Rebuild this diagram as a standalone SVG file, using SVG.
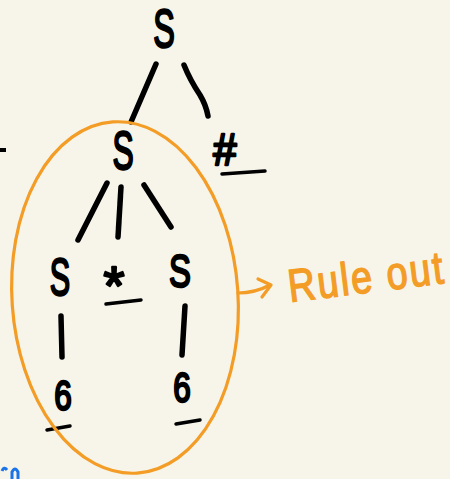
<svg xmlns="http://www.w3.org/2000/svg" width="450" height="479" viewBox="0 0 450 479">
<style>
.t{font-family:"Liberation Sans",Arial,sans-serif;fill:#000;stroke:#000;stroke-width:2.4;stroke-linejoin:round;text-anchor:middle}
.e{stroke:#000;stroke-width:5.5;stroke-linecap:round;fill:none}
.u{stroke:#000;stroke-width:3.5;stroke-linecap:round;fill:none}
.o{stroke:#f39c26;stroke-width:3.2;fill:none;stroke-linecap:round;stroke-linejoin:round}
</style>
<rect width="450" height="479" fill="#f7f5ea"/>
<g id="connectors">
<path class="e" d="M156 64 L131 122"/>
<path class="e" d="M184 65 Q190 80 200 95 Q206 105 208 116"/>
<path class="e" d="M107 183 L78 240"/>
<path class="e" d="M121 187 L118 237"/>
<path class="e" d="M144 185 L171 227"/>
<path class="e" d="M61 316 L62 357"/>
<path class="e" d="M185 306 L182 355"/>
</g>
<g id="node-root"><text class="t" font-size="54" transform="translate(164,47) scale(0.6,1)">S</text></g>
<g id="node-s1"><text class="t" font-size="53" transform="translate(123,169) scale(0.6,1)">S</text></g>
<g id="node-hash"><text class="t" font-size="44" transform="translate(225,165) scale(0.95,1)">#</text><path class="u" d="M222 174 L265 171"/></g>
<g id="node-s2"><text class="t" font-size="51" transform="translate(60,295) scale(0.6,1)">S</text></g>
<g id="node-star"><text class="t" font-size="54" x="114" y="304">*</text><path class="u" d="M106 304 L141 300"/></g>
<g id="node-s3"><text class="t" font-size="47" transform="translate(180,287) scale(0.7,1)">S</text></g>
<g id="node-6a"><text class="t" font-size="42" transform="translate(63,410) scale(0.75,1)">6</text><path class="u" d="M47 430 L70 426"/></g>
<g id="node-6b"><text class="t" font-size="42" transform="translate(182,402) scale(0.75,1)">6</text><path class="u" d="M176 424 L200 420"/></g>
<g id="annotation">
<ellipse class="o" cx="125" cy="297.5" rx="113" ry="176" transform="rotate(-4 125 297.5)"/>
<path class="o" d="M238 293 Q255 293 270 285"/>
<path class="o" d="M258 279 L271 285 L262 297"/>
<text font-family="'Liberation Sans',Arial,sans-serif" font-size="46" fill="#f39c26" stroke="#f39c26" stroke-width="1.5" transform="translate(290,302) rotate(-7) scale(0.82,1)" textLength="190" lengthAdjust="spacing">Rule out</text>
</g>
<path d="M0 150 L6 150" stroke="#000" stroke-width="4"/>
<path d="M2 471 Q4 466 7 470 M12 479 L12 472 Q15 466 18 472 L18 479" stroke="#1a73e8" stroke-width="3" fill="none"/>
</svg>
